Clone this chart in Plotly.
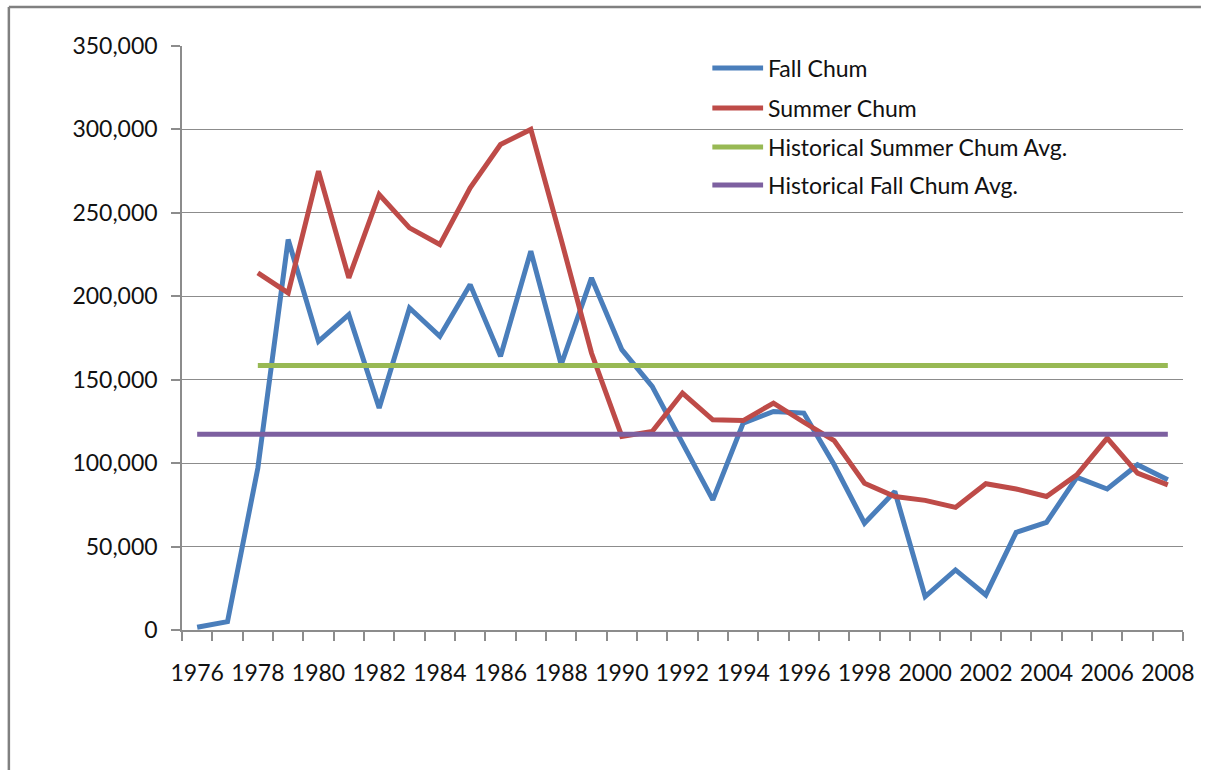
import plotly.graph_objects as go

years = list(range(1976, 2009))
fall_chum = [1600, 5000, 97000, 234000, 173000, 189000, 133000, 193000, 176000, 207000,
             164000, 227000, 159000, 211000, 168000, 146000, 112000, 78000, 124000, 131000,
             130000, 99000, 64000, 83000, 20000, 36000, 21000, 58500, 64500, 91500,
             84500, 99000, 90000]
summer_years = list(range(1978, 2009))
summer_chum = [214000, 202000, 275000, 211000, 261000, 241000, 231000, 265000, 291000, 300000,
               234000, 166000, 116000, 119000, 142000, 126000, 125500, 136000, 124500, 113500,
               88000, 80000, 77700, 73500, 87700, 84500, 80000, 93000, 115000, 94000, 87000]
summer_avg_years = [1978, 2008]
summer_avg = [158500, 158500]
fall_avg_years = [1976, 2008]
fall_avg = [117300, 117300]

names = ["Fall Chum", "Summer Chum", "Historical Summer Chum Avg.", "Historical Fall Chum Avg."]
colors = ["#4A7EBB", "#BE4B48", "#98B954", "#7D60A0"]
xs = [years, summer_years, summer_avg_years, fall_avg_years]
ys = [fall_chum, summer_chum, summer_avg, fall_avg]
x_labels = list(range(1976, 2009, 2))
y_ticks = list(range(0, 350001, 50000))

FONT = "Lato"
GRAY = "#8C8C8C"
W, H = 1206, 770
L, R, T, B = 182, 18, 46, 140
pw, ph = W - L - R, H - T - B

fig = go.Figure()
for x, y, n, c in zip(xs, ys, names, colors):
    fig.add_trace(go.Scatter(x=x, y=y, name=n, mode="lines",
                             line=dict(color=c, width=5), showlegend=False))

def px_x(p):
    return (p - L) / pw

def px_y(p):
    return (H - B - p) / ph

shapes = []
annotations = []
row_y = [68, 108, 147, 185]
for n, c, ry in zip(names, colors, row_y):
    shapes.append(dict(type="line", xref="paper", yref="paper",
                       x0=px_x(715), x1=px_x(766), y0=px_y(ry), y1=px_y(ry),
                       line=dict(color=c, width=5)))
    annotations.append(dict(xref="paper", yref="paper", x=px_x(769), y=px_y(ry),
                            text=n, showarrow=False, xanchor="left", yanchor="middle",
                            font=dict(family=FONT, size=23, color="#111111")))

# outer frame (left and top edges visible)
shapes.append(dict(type="line", xref="paper", yref="paper",
                   x0=px_x(8), x1=px_x(8), y0=px_y(7), y1=px_y(770),
                   line=dict(color="#808080", width=2.5)))
shapes.append(dict(type="line", xref="paper", yref="paper",
                   x0=px_x(8), x1=px_x(1206), y0=px_y(7), y1=px_y(7),
                   line=dict(color="#808080", width=2.5)))

fig.update_layout(
    width=W, height=H,
    margin=dict(l=L, r=R, t=T, b=B),
    paper_bgcolor="white", plot_bgcolor="white",
    font=dict(family=FONT, size=23, color="#111111"),
    shapes=shapes, annotations=annotations,
    showlegend=False,
)
fig.update_xaxes(
    range=[1975.5, 2008.5],
    tickvals=x_labels, ticktext=[str(v) for v in x_labels],
    ticks="", showgrid=False, zeroline=False,
    showline=True, linecolor=GRAY, linewidth=1.5,
    ticklabelstandoff=22,
    minor=dict(tickvals=[v - 0.5 for v in years] + [2008.5], ticks="outside",
               ticklen=9, tickcolor=GRAY, tickwidth=1.5, showgrid=False),
)
fig.update_yaxes(
    range=[0, 350000], tickvals=y_ticks, tickformat=",d",
    ticks="outside", ticklen=9, tickcolor=GRAY, tickwidth=1.5,
    showgrid=True, gridcolor=GRAY, gridwidth=1.2, zeroline=False,
    showline=True, linecolor=GRAY, linewidth=1.5,
    ticklabelstandoff=9,
)
fig.write_html("out.html", config={"displayModeBar": False},
               post_script="document.body.style.margin='0';document.body.style.overflow='hidden';")
